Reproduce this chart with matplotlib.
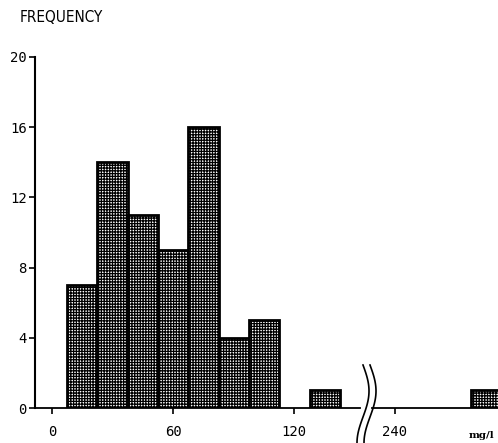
import numpy as np
import matplotlib.pyplot as plt
from matplotlib.lines import Line2D

# histogram data (mg/l, bin width 15)
bin_left = [7.5, 22.5, 37.5, 52.5, 67.5, 82.5, 97.5, 127.5, 277.5]
counts = [7, 14, 11, 9, 16, 4, 5, 1, 1]
bin_width = 15
yticks = [0, 4, 8, 12, 16, 20]
xticks_left = [0, 60, 120]
xticks_right = [240]

plt.rcParams['font.family'] = ['DejaVu Sans Mono']
plt.rcParams['hatch.linewidth'] = 0.9

W, H = 498, 443
fig = plt.figure(figsize=(W / 100, H / 100), dpi=100)

# two axes for the broken x axis
ax1 = fig.add_axes([35 / W, 35 / H, (360 - 35) / W, 351 / H])
ax2 = fig.add_axes([372 / W, 35 / H, 126 / W, 351 / H])

for ax in (ax1, ax2):
    ax.bar(bin_left, counts, width=bin_width, align='edge',
           facecolor='white', edgecolor='black', linewidth=2,
           hatch='++++++')
    ax.set_ylim(0, 20)
    ax.spines['top'].set_visible(False)
    ax.spines['right'].set_visible(False)
    ax.spines['bottom'].set_linewidth(1.3)
    ax.tick_params(axis='x', direction='out', length=4.5, width=1.2,
                   pad=8, labelsize=10)

ax1.set_xlim(-8.4, 152.5)
ax1.set_xticks(xticks_left)
ax1.set_yticks(yticks)
ax1.spines['left'].set_linewidth(1.5)
ax1.tick_params(axis='y', direction='out', length=4, width=1.2,
                pad=2, labelsize=10)

ax2.set_xlim(228.6, 291)
ax2.set_xticks(xticks_right)
ax2.spines['left'].set_visible(False)
ax2.set_yticks([])

# break marks
t = np.linspace(0, 1, 100)
yy = 1 - (365 + 78 * t) / H
for x0 in (363, 370):
    xx = (x0 + 6 * np.sin(1.5 * np.pi * t)) / W
    fig.add_artist(Line2D(xx, yy, color='black', linewidth=1.2,
                          transform=fig.transFigure))

fig.text(20 / W, 1 - 18 / H, 'FREQUENCY', ha='left', va='center',
         fontsize=11, family='DejaVu Sans', stretch='condensed')
fig.text(481 / W, 1 - 435 / H, 'mg/l', ha='center', va='center',
         fontsize=7.5, family='DejaVu Serif', weight='bold')

fig.savefig('out.png', dpi=100)
